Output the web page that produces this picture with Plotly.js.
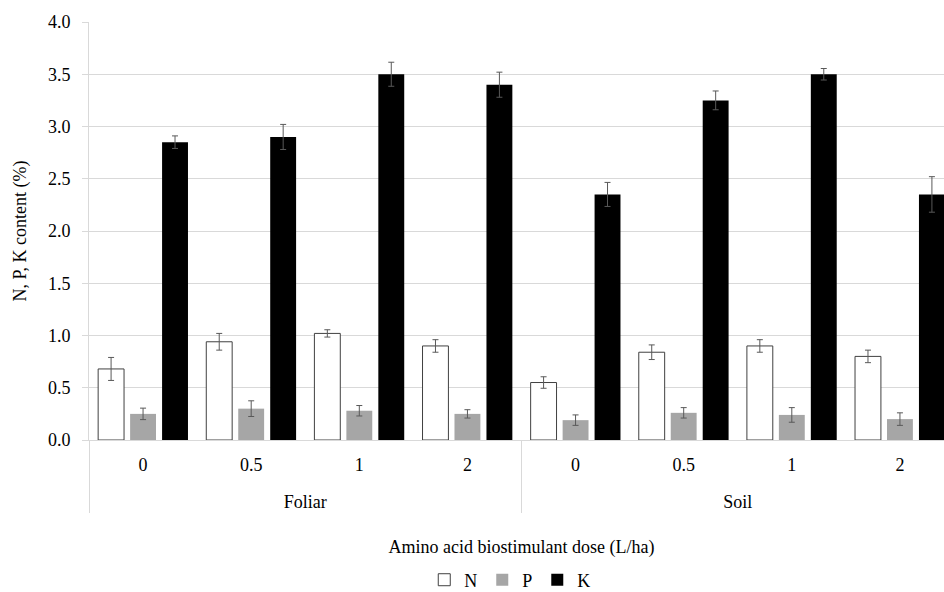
<!DOCTYPE html>
<html>
<head>
<meta charset="utf-8">
<script src="https://cdn.plot.ly/plotly-3.0.1.min.js"></script>
<style>
html, body { margin: 0; padding: 0; overflow: hidden; background: #fff; }
#chart { width: 954px; height: 592px; }
</style>
</head>
<body>
<div id="chart"></div>
<script>
const methods = ["Foliar", "Foliar", "Foliar", "Foliar", "Soil", "Soil", "Soil", "Soil"];
const doses = ["0", "0.5", "1", "2", "0", "0.5", "1", "2"];

const nValues = [0.68, 0.94, 1.02, 0.90, 0.55, 0.84, 0.90, 0.80];
const nErrors = [0.11, 0.08, 0.035, 0.06, 0.055, 0.07, 0.06, 0.06];
const pValues = [0.25, 0.30, 0.28, 0.25, 0.19, 0.26, 0.24, 0.20];
const pErrors = [0.055, 0.075, 0.05, 0.04, 0.05, 0.05, 0.07, 0.06];
const kValues = [2.85, 2.90, 3.50, 3.40, 2.35, 3.25, 3.50, 2.35];
const kErrors = [0.06, 0.12, 0.115, 0.12, 0.115, 0.09, 0.055, 0.17];

const yTicks = [0, 0.5, 1, 1.5, 2, 2.5, 3, 3.5, 4];

const serif = "'Liberation Serif', 'Times New Roman', Times, serif";
// group labels get an empty first line so they sit lower, as in the reference
const x = [methods.map(m => "<br>" + m), doses];

function errBar(arr) {
  return { type: "data", array: arr, visible: true, color: "#595959", thickness: 1, width: 3 };
}

const traces = [
  { type: "bar", name: "N", x: x, y: nValues, error_y: errBar(nErrors),
    marker: { color: "#ffffff", line: { color: "#404040", width: 1 } } },
  { type: "bar", name: "P", x: x, y: pValues, error_y: errBar(pErrors),
    marker: { color: "#a6a6a6", line: { color: "#a6a6a6", width: 0 } } },
  { type: "bar", name: "K", x: x, y: kValues, error_y: errBar(kErrors),
    marker: { color: "#000000", line: { color: "#000000", width: 0 } } }
];

const layout = {
  width: 954,
  height: 592,
  margin: { l: 89, r: 0, t: 22, b: 152, autoexpand: false },
  paper_bgcolor: "#ffffff",
  plot_bgcolor: "#ffffff",
  font: { family: serif, size: 18, color: "#000000" },
  barmode: "group",
  bargap: 0.113,
  bargroupgap: 0.19,
  showlegend: true,
  legend: {
    orientation: "h", x: 0.487, xanchor: "center", y: -0.335, yanchor: "middle",
    font: { family: serif, size: 18, color: "#000" }, itemwidth: 30, traceorder: "normal"
  },
  xaxis: {
    type: "multicategory",
    automargin: false,
    showgrid: false,
    showline: true,
    linecolor: "#d9d9d9",
    linewidth: 1,
    ticks: "",
    ticklabelstandoff: 8,
    showdividers: true,
    dividercolor: "#d9d9d9",
    dividerwidth: 1,
    tickfont: { family: serif, size: 18, color: "#000" },
    title: { text: "Amino acid biostimulant dose (L/ha)", font: { family: serif, size: 18, color: "#000" }, standoff: 29 }
  },
  yaxis: {
    range: [0, 4],
    automargin: false,
    tickvals: yTicks,
    tickformat: ".1f",
    showgrid: true,
    gridcolor: "#d9d9d9",
    gridwidth: 1,
    zeroline: false,
    showline: true,
    linecolor: "#d9d9d9",
    ticks: "outside",
    ticklen: 6,
    tickcolor: "#d9d9d9",
    ticklabelstandoff: 8,
    tickfont: { family: serif, size: 18, color: "#000" },
    title: { text: "N, P, K content (%)", font: { family: serif, size: 18, color: "#000" }, standoff: 16 }
  }
};

Plotly.newPlot("chart", traces, layout, { displayModeBar: false, staticPlot: true });
</script>
</body>
</html>
